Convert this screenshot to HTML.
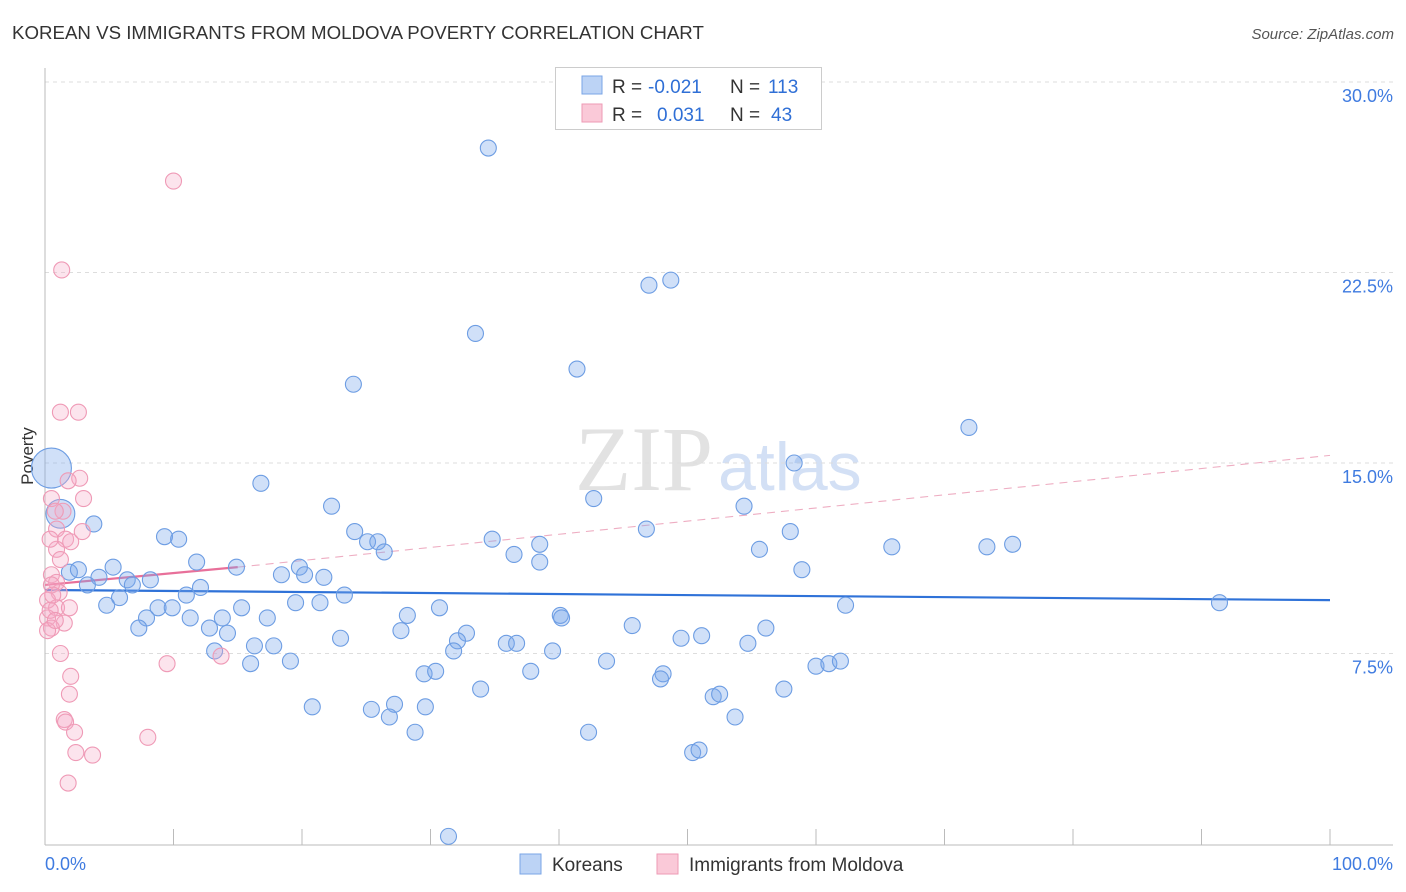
<!DOCTYPE html>
<html><head><meta charset="utf-8">
<style>
body{margin:0;background:#fff;font-family:"Liberation Sans",sans-serif;}
#wrap{position:relative;width:1406px;height:892px;overflow:hidden;}
</style></head>
<body>
<div id="wrap">
<svg id="chart" width="1406" height="892" style="position:absolute;left:0;top:0">
  <text x="12" y="39" font-size="18.7" fill="#333">KOREAN VS IMMIGRANTS FROM MOLDOVA POVERTY CORRELATION CHART</text>
  <text x="1394" y="39" font-size="15" fill="#555" font-style="italic" text-anchor="end">Source: ZipAtlas.com</text>
  <text x="713" y="490" font-size="92" fill="#e2e2e2" text-anchor="end" font-family="Liberation Serif,serif">ZIP</text>
  <text x="718" y="490" font-size="68" fill="#d3e0f5">atlas</text>
  <text x="33" y="456" font-size="17" fill="#333" transform="rotate(-90 33 456)" text-anchor="middle">Poverty</text>
  <g id="grid"></g>
  <g id="axes"></g>
  <g id="trend"></g>
  <g id="pts"></g>
  <g>
    <rect x="555.5" y="67.5" width="266" height="62" fill="#fff" stroke="#ccc"/>
    <rect x="582" y="76" width="20" height="18" fill="#bcd3f5" stroke="#7aa5e6"/>
    <rect x="582" y="104" width="20" height="18" fill="#fac9d8" stroke="#ee9ab5"/>
    <text y="93" font-size="19" fill="#333"><tspan x="612">R =</tspan><tspan x="648" fill="#2f6fd6">-0.021</tspan><tspan x="730">N =</tspan><tspan x="768" fill="#2f6fd6">113</tspan></text>
    <text y="121" font-size="19" fill="#333"><tspan x="612">R =</tspan><tspan x="657" fill="#2f6fd6">0.031</tspan><tspan x="730">N =</tspan><tspan x="771" fill="#2f6fd6">43</tspan></text>
  </g>
  <g>
    <rect x="520" y="854" width="21" height="20" fill="#bcd3f5" stroke="#7aa5e6"/>
    <text x="552" y="871" font-size="19" fill="#333">Koreans</text>
    <rect x="657" y="854" width="21" height="20" fill="#fac9d8" stroke="#ee9ab5"/>
    <text x="689" y="871" font-size="19" fill="#333">Immigrants from Moldova</text>
  </g>
</svg>
</div>
<script>
const yTicks=[7.5,15,22.5,30];
const yTickLabels=["7.5%","15.0%","22.5%","30.0%"];
const xTickValues=[0,10,20,30,40,50,60,70,80,90,100];
const koreanX=[34.5,47.0,48.7,33.5,24.0,41.4,71.9,58.3,16.8,0.5,1.2,3.8,22.3,42.7,54.4,46.8,58.0,9.3,10.4,24.1,25.1,25.9,26.4,34.8,36.5,38.5,38.5,55.6,65.9,73.3,75.3,58.9,11.8,14.9,5.3,1.9,2.6,4.2,3.3,6.4,6.8,8.2,18.4,19.8,20.2,21.7,12.1,11.0,5.8,4.8,8.8,9.9,7.9,11.3,15.3,17.3,19.5,21.4,23.3,28.2,30.7,40.1,40.2,62.3,91.4,7.3,12.8,13.8,14.2,23.0,27.7,32.8,32.1,35.9,36.7,45.7,49.5,51.1,56.1,13.2,16.3,17.8,16.0,19.1,31.8,39.5,43.7,54.7,29.5,30.4,37.8,48.1,47.9,60.0,61.0,61.9,33.9,52.0,52.5,57.5,20.8,25.4,27.2,29.6,26.8,53.7,28.8,42.3,50.4,50.9,31.4];
const koreanY=[27.4,22.0,22.2,20.1,18.1,18.7,16.4,15.0,14.2,14.8,13.0,12.6,13.3,13.6,13.3,12.4,12.3,12.1,12.0,12.3,11.9,11.9,11.5,12.0,11.4,11.8,11.1,11.6,11.7,11.7,11.8,10.8,11.1,10.9,10.9,10.7,10.8,10.5,10.2,10.4,10.2,10.4,10.6,10.9,10.6,10.5,10.1,9.8,9.7,9.4,9.3,9.3,8.9,8.9,9.3,8.9,9.5,9.5,9.8,9.0,9.3,9.0,8.9,9.4,9.5,8.5,8.5,8.9,8.3,8.1,8.4,8.3,8.0,7.9,7.9,8.6,8.1,8.2,8.5,7.6,7.8,7.8,7.1,7.2,7.6,7.6,7.2,7.9,6.7,6.8,6.8,6.7,6.5,7.0,7.1,7.2,6.1,5.8,5.9,6.1,5.4,5.3,5.5,5.4,5.0,5.0,4.4,4.4,3.6,3.7,0.3];
const koreanSize=koreanX.map((v,i)=>i===9?2.5:(i===10?1.8:1));
const moldovaX=[10.0,1.3,1.2,2.6,2.7,1.8,0.5,3.0,1.4,0.8,0.9,2.9,1.6,2.0,0.9,0.5,0.9,1.1,0.2,0.9,1.9,0.2,1.5,0.5,9.5,13.7,1.2,2.0,1.9,1.5,1.6,2.3,8.0,2.4,3.7,1.8,0.4,0.5,0.2,0.8,1.2,0.4,0.6];
const moldovaY=[26.1,22.6,17.0,17.0,14.4,14.3,13.6,13.6,13.1,13.1,12.4,12.3,12.0,11.9,11.6,10.6,10.3,9.9,9.6,9.3,9.3,8.9,8.7,8.5,7.1,7.4,7.5,6.6,5.9,4.9,4.8,4.4,4.2,3.6,3.5,2.4,9.2,10.2,8.4,8.8,11.2,12.0,9.8];
const koreanTrend=[10.0,9.6];
const moldovaTrend=[10.2,10.9,15.3];

const X0=45,X1=1330,YB=844,YPX=25.4;
const sx=v=>X0+(X1-X0)*v/100;
const sy=v=>YB-v*YPX;
const NS="http://www.w3.org/2000/svg";
function mk(tag,attrs,parent){const e=document.createElementNS(NS,tag);for(const k in attrs)e.setAttribute(k,attrs[k]);parent.appendChild(e);return e;}
const grid=document.getElementById('grid'),axes=document.getElementById('axes'),trend=document.getElementById('trend'),pts=document.getElementById('pts');
yTicks.forEach((t,i)=>{
  const l=mk('line',{x1:X0,x2:1393,y1:sy(t),y2:sy(t),stroke:'#ddd','stroke-dasharray':'4,4'},grid);
  
  
  const tx=mk('text',{x:1393,y:sy(t)+20,'font-size':18,fill:'#3f7be0','text-anchor':'end'},grid);
  tx.textContent=yTickLabels[i];
  
  
});
const ya=mk('line',{x1:X0,x2:X0,y1:68,y2:845,stroke:'#bbb'},axes);


const xa=mk('line',{x1:X0,x2:1393,y1:845,y2:845,stroke:'#bbb'},axes);


xTickValues.forEach(t=>{
  const l=mk('line',{x1:sx(t),x2:sx(t),y1:829,y2:845,stroke:'#bbb'},axes);
  
  
});
const xl0=mk('text',{x:X0,y:870,'font-size':18,fill:'#3f7be0'},axes);xl0.textContent='0.0%';


const xl1=mk('text',{x:1393,y:870,'font-size':18,fill:'#3f7be0','text-anchor':'end'},axes);xl1.textContent='100.0%';



const kt=mk('line',{x1:sx(0),y1:sy(koreanTrend[0]),x2:sx(100),y2:sy(koreanTrend[1]),stroke:'#2f72d8','stroke-width':2.2},trend);


const md=mk('line',{x1:sx(15),y1:sy(moldovaTrend[1]),x2:sx(100),y2:sy(moldovaTrend[2]),stroke:'#eeadc2','stroke-width':1.1,'stroke-dasharray':'8,6'},trend);


const ms=mk('line',{x1:sx(0),y1:sy(moldovaTrend[0]),x2:sx(15),y2:sy(moldovaTrend[1]),stroke:'#e8709a','stroke-width':2.2},trend);



koreanX.forEach((x,i)=>{
  const c=mk('circle',{cx:sx(x),cy:sy(koreanY[i]),r:8*koreanSize[i],fill:'rgba(120,165,235,0.35)',stroke:'#6d9de3','stroke-width':1.1},pts);
  
  
});
moldovaX.forEach((x,i)=>{
  const c=mk('circle',{cx:sx(x),cy:sy(moldovaY[i]),r:8,fill:'rgba(247,170,198,0.32)',stroke:'#ef9ab6','stroke-width':1.1},pts);
  
  
});
</script>
</body></html>
